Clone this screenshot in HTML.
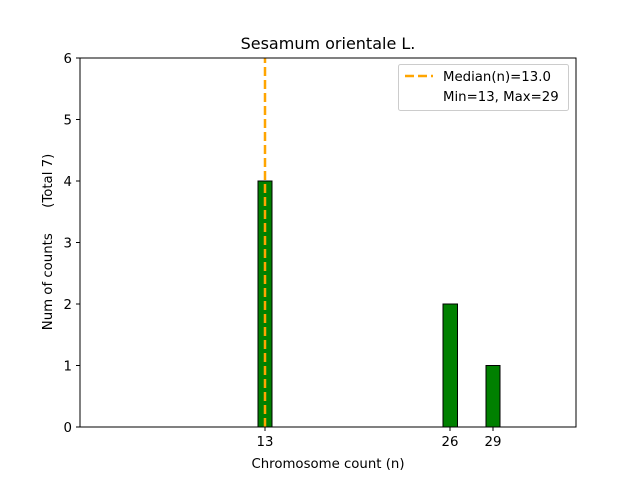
<!DOCTYPE html>
<html><head><meta charset="utf-8"><style>
body{margin:0;background:#fff}
text{font-family:"DejaVu Sans","Liberation Sans",sans-serif;font-size:13.3px;fill:#000}
</style></head><body>
<svg width="640" height="480" xmlns="http://www.w3.org/2000/svg">
<rect width="640" height="480" fill="#fff"/>
<line x1="258" y1="427" x2="543" y2="427" stroke="#000" stroke-width="1"/>
<rect x="258" y="181" width="14" height="246" fill="#008000" stroke="#000" stroke-width="1"/>
<rect x="443" y="304" width="14.5" height="123" fill="#008000" stroke="#000" stroke-width="1"/>
<rect x="486" y="365.5" width="14" height="61.5" fill="#008000" stroke="#000" stroke-width="1"/>
<line x1="265" y1="427" x2="265" y2="58" stroke="#ffa500" stroke-width="2.5" stroke-dasharray="9,4"/>
<rect x="80" y="58" width="496" height="369" fill="none" stroke="#000" stroke-width="1"/>
<g stroke="#000">
<line x1="80" y1="427" x2="76" y2="427"/><line x1="80" y1="365.5" x2="76" y2="365.5"/>
<line x1="80" y1="304" x2="76" y2="304"/><line x1="80" y1="242.5" x2="76" y2="242.5"/>
<line x1="80" y1="181" x2="76" y2="181"/><line x1="80" y1="119.5" x2="76" y2="119.5"/>
<line x1="80" y1="58" x2="76" y2="58"/>
<line x1="265" y1="427" x2="265" y2="431"/><line x1="450" y1="427" x2="450" y2="431"/><line x1="493" y1="427" x2="493" y2="431"/>
</g>
<g text-anchor="end">
<text x="72" y="432">0</text><text x="72" y="370.5">1</text><text x="72" y="309">2</text>
<text x="72" y="247.5">3</text><text x="72" y="186">4</text><text x="72" y="124.5">5</text><text x="72" y="63">6</text>
</g>
<g text-anchor="middle">
<text x="265" y="446">13</text><text x="450" y="446">26</text><text x="493" y="446">29</text>
<text x="328" y="468">Chromosome count (n)</text>
<text x="328" y="49" style="font-size:16px">Sesamum orientale L.</text>
<text transform="translate(52,242) rotate(-90)" style="white-space:pre">Num of counts      (Total 7)</text>
</g>
<rect x="398.5" y="64.5" width="170" height="46" rx="2" fill="#fff" fill-opacity="0.8" stroke="#ccc"/>
<line x1="405" y1="76" x2="433" y2="76" stroke="#ffa500" stroke-width="2.5" stroke-dasharray="9,4"/>
<text x="443" y="81">Median(n)=13.0</text>
<text x="443" y="101">Min=13, Max=29</text>
</svg>
</body></html>
